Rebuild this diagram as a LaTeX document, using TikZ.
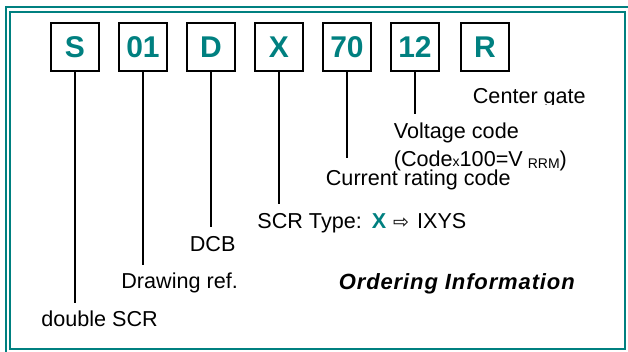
\documentclass[tikz,border=0pt]{standalone}
\usepackage{fontspec}
\setmainfont{Liberation Sans}
\newfontfamily\arrowfont{DejaVu Sans}
\usetikzlibrary{positioning}
\definecolor{ixysteal}{RGB}{0,128,128}

\begin{document}
\begin{tikzpicture}[x=0.5pt,y=-0.5pt,
  code/.style={rectangle,draw,line width=0.85pt,minimum size=24pt,inner sep=0pt,
               font=\fontsize{15}{15}\selectfont\bfseries,text=ixysteal},
  lead/.style={line width=0.75pt},
  lbl/.style={anchor=base west,inner sep=0pt,font=\fontsize{10.8}{12}\selectfont},
  frame/.style={draw=ixysteal,line width=1pt}
]
  \useasboundingbox (0,0) rectangle (628,352);

  % ---------- double frame ----------
  \draw[frame] (5.5,7.5) rectangle (640,364);
  \draw[frame] (9.8,12.3) rectangle (624.5,349);

  % ---------- code boxes ----------
  \node[code] (bS)  at (75,46.7)  {S};
  \node[code] (b01) at (143,46.7) {01};
  \node[code] (bD)  at (211,46.7) {D};
  \node[code] (bX)  at (279,46.7) {X};
  \node[code] (b70) at (347,46.7) {70};
  \node[code] (b12) at (415,46.7) {12};
  \node[code] (bR)  at (485,46.7) {R};

  % ends of the leader lines
  \coordinate (eS)  at (75,303);
  \coordinate (e01) at (143,265);
  \coordinate (eD)  at (211,227);
  \coordinate (eX)  at (279,204);
  \coordinate (e70) at (347,158);
  \coordinate (e12) at (415,114);

  \draw[lead] (bS)  -- (eS);
  \draw[lead] (b01) -- (e01);
  \draw[lead] (bD)  -- (eD);
  \draw[lead] (bX)  -- (eX);
  \draw[lead] (b70) -- (e70);
  \draw[lead] (b12) -- (e12);

  % ---------- labels ----------
  \node[lbl] (tS)  at (41,326.5) {double SCR};
  \node[lbl] (t01) at (121,289)  {Drawing ref.};
  \node[lbl] (tD)  at (189.5,252) {DCB};
  \node[lbl] (tX)  at (257,229)  {SCR Type:\hspace{5pt}{\bfseries\color{ixysteal}X}\hspace{3.5pt}{\arrowfont\fontsize{9.5}{9}\selectfont ⇨}\hspace{4pt}IXYS};
  \node[lbl] (t70) at (325.5,186) {Current rating code};
  \node[lbl] (t12) at (393.5,139) {Voltage code};
  \node[lbl] (t12b) at (393.5,166.5)
    {(Code{\fontsize{7}{7}\selectfont x}100=V\hspace{2.5pt}\raisebox{-1.2pt}{\fontsize{7}{7}\selectfont RRM})};
  \begin{scope}
    \clip (460,80) rectangle (600,104.5);
    \node[lbl] (tR) at (472.5,104) {Center gate};
  \end{scope}

  \node[lbl,font=\fontsize{11}{12}\selectfont\bfseries\itshape\addfontfeature{LetterSpace=4}]
    (title) at (338.5,290) {Ordering Information};
\end{tikzpicture}
\end{document}
